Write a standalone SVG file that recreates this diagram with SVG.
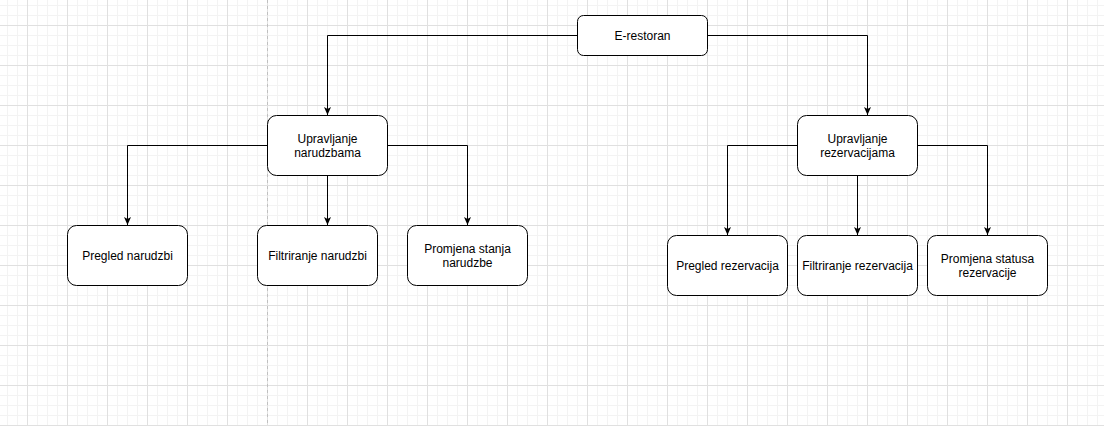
<svg xmlns="http://www.w3.org/2000/svg" width="1104" height="426" viewBox="0 0 1104 426">
<style>
.box{fill:#fff;stroke:#000;stroke-width:1}
.lbl{font-family:"Liberation Sans",Arial,sans-serif;font-size:12px;fill:#000;text-anchor:middle}
.edge{fill:none;stroke:#000;stroke-width:1}
</style>
<defs>
<pattern id="minor" patternUnits="userSpaceOnUse" x="7" y="5" width="10" height="10">
<path d="M0.5 0V10M0 0.5H10" stroke="#f3f3f3" stroke-width="1" fill="none"/>
</pattern>
<pattern id="major" patternUnits="userSpaceOnUse" x="27" y="25" width="40" height="40">
<path d="M0.5 0V40M0 0.5H40" stroke="#e0e0e0" stroke-width="1" fill="none"/>
</pattern>
<marker id="arr" markerUnits="userSpaceOnUse" markerWidth="8" markerHeight="8" viewBox="0 0 8 8" refX="8" refY="4" orient="auto">
<path d="M0,0.5 L8,4 L0,7.5 L2,4 Z" fill="#000"/>
</marker>
</defs>
<rect width="1104" height="426" fill="#fff"/>
<rect width="1104" height="426" fill="url(#minor)"/>
<rect width="1104" height="426" fill="url(#major)"/>
<line x1="267.5" y1="0" x2="267.5" y2="426" stroke="#c0c0c0" stroke-width="1" stroke-dasharray="3,3"/>
<g id="connectors">
<path class="edge" marker-end="url(#arr)" d="M577,35.5 H327.5 V115"/>
<path class="edge" marker-end="url(#arr)" d="M707,35.5 H867.5 V115"/>
<path class="edge" marker-end="url(#arr)" d="M267.5,145.5 H127.5 V225"/>
<path class="edge" marker-end="url(#arr)" d="M327.5,175.5 V225"/>
<path class="edge" marker-end="url(#arr)" d="M387.5,145.5 H467.5 V225"/>
<path class="edge" marker-end="url(#arr)" d="M797.5,145.5 H727.5 V235"/>
<path class="edge" marker-end="url(#arr)" d="M857.5,175.5 V235"/>
<path class="edge" marker-end="url(#arr)" d="M917.5,145.5 H987.5 V235"/>
</g>
<g id="e-restoran">
<rect class="box" x="577.5" y="15.5" width="130" height="40" rx="6" ry="6"/>
<text class="lbl" x="642.5" y="39.5">E-restoran</text>
</g>
<g id="upravljanje-narudzbama">
<rect class="box" x="267.5" y="115.5" width="120" height="60" rx="9" ry="9"/>
<text class="lbl" x="327.5" y="142.5">Upravljanje</text>
<text class="lbl" x="327.5" y="157">narudzbama</text>
</g>
<g id="pregled-narudzbi">
<rect class="box" x="67.5" y="225.5" width="120" height="60" rx="9" ry="9"/>
<text class="lbl" x="127.5" y="259.5">Pregled narudzbi</text>
</g>
<g id="filtriranje-narudzbi">
<rect class="box" x="257.5" y="225.5" width="120" height="60" rx="9" ry="9"/>
<text class="lbl" x="317.5" y="259.5">Filtriranje narudzbi</text>
</g>
<g id="promjena-stanja">
<rect class="box" x="407.5" y="225.5" width="120" height="60" rx="9" ry="9"/>
<text class="lbl" x="467.5" y="252.5">Promjena stanja</text>
<text class="lbl" x="467.5" y="267">narudzbe</text>
</g>
<g id="upravljanje-rezervacijama">
<rect class="box" x="797.5" y="115.5" width="120" height="60" rx="9" ry="9"/>
<text class="lbl" x="857.5" y="142.5">Upravljanje</text>
<text class="lbl" x="857.5" y="157">rezervacijama</text>
</g>
<g id="pregled-rezervacija">
<rect class="box" x="667.5" y="235.5" width="120" height="60" rx="9" ry="9"/>
<text class="lbl" x="727.5" y="269.5">Pregled rezervacija</text>
</g>
<g id="filtriranje-rezervacija">
<rect class="box" x="797.5" y="235.5" width="120" height="60" rx="9" ry="9"/>
<text class="lbl" x="857.5" y="269.5">Filtriranje rezervacija</text>
</g>
<g id="promjena-statusa">
<rect class="box" x="927.5" y="235.5" width="120" height="60" rx="9" ry="9"/>
<text class="lbl" x="987.5" y="262.5">Promjena statusa</text>
<text class="lbl" x="987.5" y="277">rezervacije</text>
</g>
</svg>
